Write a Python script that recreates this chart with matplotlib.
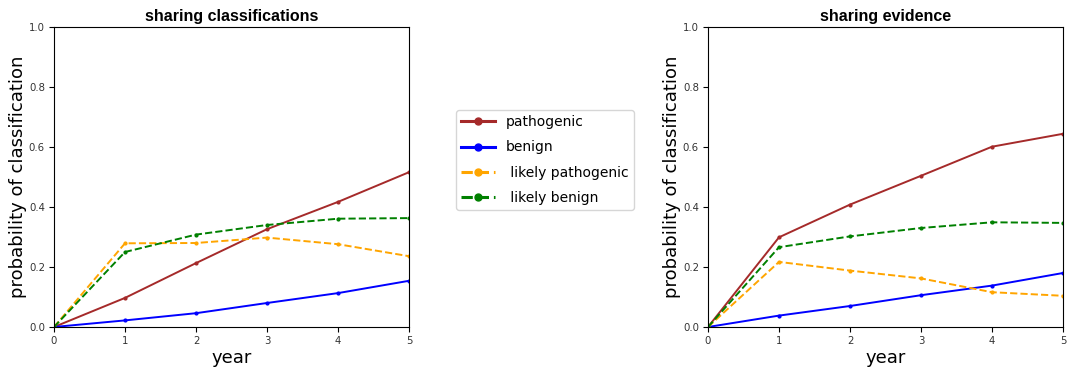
import numpy as np
import matplotlib.pyplot as plt
from matplotlib.lines import Line2D

years = np.arange(6)

# sharing classifications
cls_pathogenic = [0.0, 0.097, 0.213, 0.326, 0.417, 0.516]
cls_benign = [0.0, 0.022, 0.046, 0.080, 0.113, 0.154]
cls_likely_pathogenic = [0.0, 0.279, 0.280, 0.298, 0.276, 0.236]
cls_likely_benign = [0.0, 0.250, 0.308, 0.340, 0.361, 0.363]

# sharing evidence
ev_pathogenic = [0.0, 0.299, 0.408, 0.504, 0.601, 0.644]
ev_benign = [0.0, 0.038, 0.070, 0.106, 0.138, 0.180]
ev_likely_pathogenic = [0.0, 0.217, 0.188, 0.162, 0.116, 0.104]
ev_likely_benign = [0.0, 0.266, 0.302, 0.330, 0.349, 0.347]

labels = ['pathogenic', 'benign', ' likely pathogenic', ' likely benign']
colors = ['brown', 'blue', 'orange', 'green']
styles = ['-', '-', '--', '--']

fig = plt.figure(figsize=(10.67, 3.75), dpi=100)
ax1 = fig.add_axes([54 / 1067, 48 / 375, 355 / 1067, 300 / 375])
ax2 = fig.add_axes([708 / 1067, 48 / 375, 355 / 1067, 300 / 375])

panels = [
    (ax1, 'sharing classifications',
     [cls_pathogenic, cls_benign, cls_likely_pathogenic, cls_likely_benign]),
    (ax2, 'sharing evidence',
     [ev_pathogenic, ev_benign, ev_likely_pathogenic, ev_likely_benign]),
]

for ax, title, series in panels:
    for vals, c, ls in zip(series, colors, styles):
        ax.plot(years, vals, color=c, linestyle=ls, marker='.', markersize=4,
                linewidth=1.4)
    ax.set_xlim(0, 5)
    ax.set_ylim(0, 1.0)
    ax.set_xticks(years)
    ax.set_yticks([0.0, 0.2, 0.4, 0.6, 0.8, 1.0])
    ax.tick_params(labelsize=7.3, length=3.5, pad=3, labelcolor='#333333')
    ax.set_xlabel('year', fontsize=13, labelpad=2)
    ax.set_ylabel('probability of classification', fontsize=13, labelpad=1)
    ax.set_title(title, fontsize=11.5, fontweight='bold',
                 family='Liberation Sans', pad=4)

handles = [Line2D([0], [0], color=c, linestyle=ls, marker='o', markersize=5,
                  linewidth=2.2) for c, ls in zip(colors, styles)]
fig.legend(handles, labels, loc='center', bbox_to_anchor=(545 / 1067, 1 - 160 / 375),
           fontsize=10, handlelength=2.4, labelspacing=0.8, frameon=True)

plt.savefig('out.png', dpi=100)
